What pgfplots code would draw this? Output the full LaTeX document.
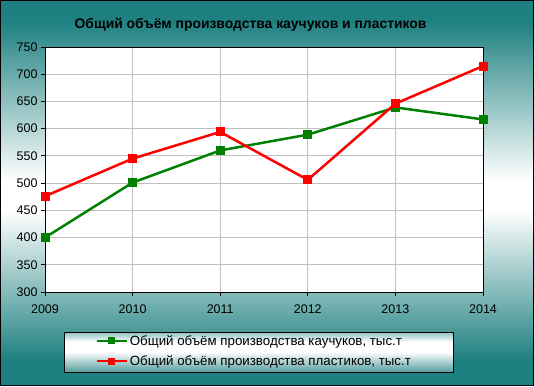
\documentclass[border=0pt]{standalone}
\usepackage{pgfplots}
\pgfplotsset{compat=1.18}
\usepackage{fontspec}
\setmainfont{Liberation Sans}
\definecolor{tealc}{RGB}{30,128,128}
\definecolor{grn}{RGB}{0,128,0}
\definecolor{gridc}{RGB}{192,192,192}
\begin{document}
\begin{tikzpicture}[x=1pt,y=1pt]
% background gradient (svg y measured from top)
\foreach \y in {0,2,...,384}{
  \pgfmathsetmacro\p{\y<20 ? 100 : (\y<180 ? (180-\y)/160*100 : (\y<210 ? 0 : (\y<360 ? (\y-210)/150*100 : 100)))}
  \fill[tealc!\p!white] (0,{386-\y-2.4}) rectangle (534,{386-\y});
}
\draw[black, line width=1pt] (0.5,0.5) rectangle (533.5,385.5);
\node[font=\bfseries\fontsize{13.9}{16}\selectfont] at (250.5,361) {Общий объём производства каучуков и пластиков};
% legend box background
\foreach \y in {332,333,...,372}{
  \pgfmathsetmacro\p{\y<342 ? (342-\y)/10*50 : (\y<352 ? 0 : (\y-352)/21*80)}
  \fill[tealc!\p!white] (64.5,{386-\y-1.3}) rectangle (453.5,{386-\y});
}
\draw[black, line width=0.9pt] (64.5,13.5) rectangle (453.5,53.5);
\begin{axis}[
  at={(45pt,94pt)}, anchor=south west,
  scale only axis, width=438pt, height=245pt,
  xmin=2009, xmax=2014, ymin=300, ymax=750,
  xtick={2009,2010,2011,2012,2013,2014},
  ytick distance=50,
  xticklabel style={/pgf/number format/1000 sep={}, yshift=-5pt},
  yticklabel style={/pgf/number format/1000 sep={}},
  /pgf/number format/assume math mode=true,
  tick label style={font=\fontsize{12.5}{14}\selectfont},
  tick align=outside, major tick length=4pt,
  xtick pos=bottom, ytick pos=left,
  tick style={black, line width=0.8pt},
  axis line style={black, line width=0.9pt},
  grid=major, major grid style={gridc, line width=0.9pt},
  axis background/.style={fill=white},
  legend style={at={(0.1145,-0.2408)}, anchor=west, draw=none, fill=none,
    font=\fontsize{13.3}{15}\selectfont, inner sep=0pt, row sep=5pt},
  legend cell align=left,
  legend image code/.code={\draw[mark repeat=2,mark phase=2,#1, mark size=3pt] plot coordinates {(0pt,0pt) (15pt,0pt) (30pt,0pt)};},
]
\addplot[grn, line width=2.5pt, mark=square*, mark size=4pt, mark options={solid, line width=1pt}] coordinates {(2009,400) (2010,501) (2011,560) (2012,589) (2013,639) (2014,617)};
\addlegendentry{Общий объём производства каучуков, тыс.т}
\addplot[red, line width=2.5pt, mark=square*, mark size=4pt, mark options={solid, line width=1pt}] coordinates {(2009,476) (2010,545) (2011,594) (2012,506) (2013,646) (2014,715)};
\addlegendentry{Общий объём производства пластиков, тыс.т}
\end{axis}
\end{tikzpicture}
\end{document}
